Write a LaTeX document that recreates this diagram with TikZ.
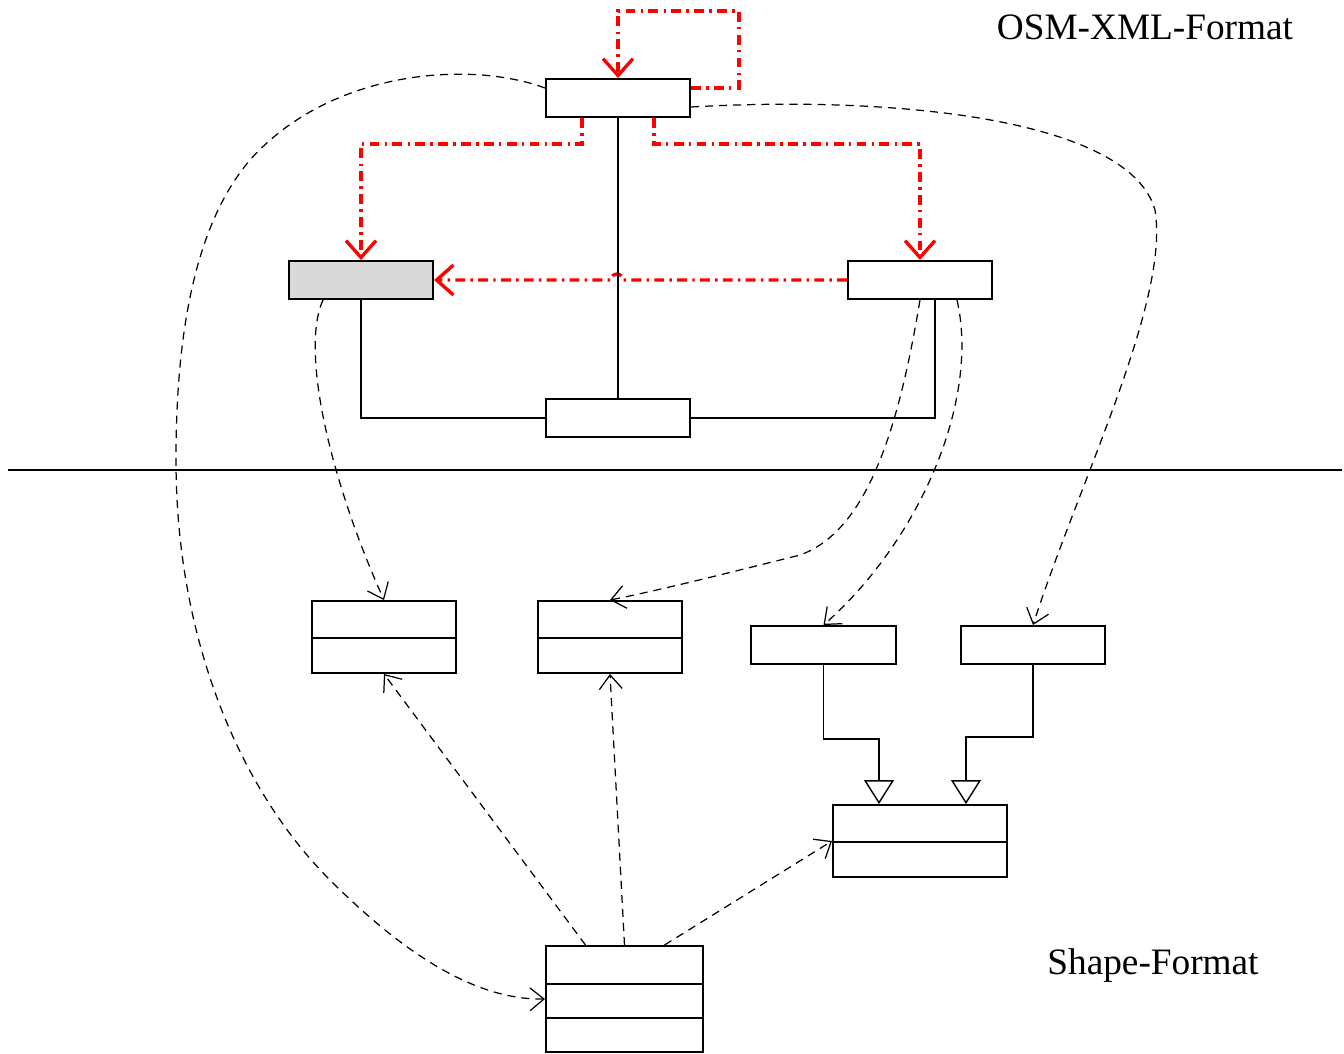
\documentclass[tikz,border=0pt]{standalone}
\usepackage{fontspec}
\setmainfont{Liberation Serif}
\usetikzlibrary{arrows.meta,calc}
\definecolor{boxgrey}{RGB}{217,217,217}
\tikzset{
 cls/.style={draw,line width=0.55pt,minimum width=1.44cm,minimum height=0.38cm,inner sep=0pt},
 redarrow/.style={-{Straight Barb[length=4.8pt,width=8.5pt]},red,line width=0.95pt,
             dash pattern=on 2.8pt off 1.5pt on 0.7pt off 1.5pt},
 deparrow/.style={-{Straight Barb[length=4pt,width=6.5pt]},line width=0.35pt,
             dash pattern=on 2.3pt off 1.7pt},
 genarrow/.style={-{Triangle[open,length=6.8pt,width=8.5pt]},line width=0.4pt},
 assoc/.style={line width=0.4pt},
 fmtlabel/.style={font=\fontsize{10.6}{12}\selectfont,inner sep=0pt}
}
\begin{document}
\begin{tikzpicture}[x=0.01cm,y=-0.01cm]
\fill[white] (0,0) rectangle (1344,1053);
\useasboundingbox (0,0) rectangle (1344,1053);
\node[cls] (t) at (618,98) {};
\node[cls,fill=boxgrey] (g) at (361,280) {};
\node[cls] (r) at (920,280) {};
\node[cls] (m) at (618,418) {};
\node[cls,minimum height=0.72cm] (a) at (384,637) {};
\node[cls,minimum height=0.72cm] (b) at (610,637) {};
\node[cls] (c) at (823.5,645) {};
\node[cls] (d) at (1033,645) {};
\node[cls,minimum width=1.74cm,minimum height=0.72cm] (e) at (920,841) {};
\node[cls,minimum width=1.57cm,minimum height=1.06cm] (f) at (624.5,999) {};
\foreach \n in {a,b,e}
  \draw[line width=0.55pt] ($(\n.north west)+(0,38)$) -- ($(\n.north east)+(0,38)$);
\draw[line width=0.55pt] ($(f.north west)+(0,39)$) -- ($(f.north east)+(0,39)$);
\draw[line width=0.55pt] ($(f.north west)+(0,73)$) -- ($(f.north east)+(0,73)$);
\node[fmtlabel] (osm) at (1145,27) {OSM-XML-Format};
\node[fmtlabel] (shp) at (1153,966) {Shape-Format};
\draw[line width=0.45pt] (8,470) -- (1342,470);
\draw[redarrow] ($(t.east)+(0,-10)$) -| (739,11) -| (t.north);
\draw[redarrow] ($(t.south)+(-36,0)$) -- ++(0,26) -| (g.north);
\draw[redarrow] ($(t.south)+(36,0)$) -- ++(0,26) -| (r.north);
\draw[redarrow] (r.west) -- (623,280) arc[start angle=0,end angle=-180,radius=6] -- (g.east);
\draw[assoc] (t.south) -- (m.north);
\draw[assoc] (g.south) |- (m.west);
\draw[assoc] (m.east) -| ($(r.south)+(15,0)$);
\draw[genarrow] (c.south) -- ++(0,74) -| ($(e.north)+(-41,0)$);
\draw[genarrow] (d.south) -- ++(0,72) -| ($(e.north)+(46,0)$);
\draw[deparrow] ($(g.south)+(-38,0)$) .. controls (300,350) and (330,480) .. (a.north);
\draw[deparrow] (r.south) .. controls (900,420) and (870,530) .. (800,555)
  .. controls (720,575) and (660,590) .. (b.north);
\draw[deparrow] ($(r.south)+(37,0)$) .. controls (980,400) and (920,540) .. (c.north);
\draw[deparrow] ($(t.east)+(0,9)$) .. controls (900,95) and (1130,120) .. (1155,210)
  .. controls (1170,300) and (1080,480) .. (d.north);
\draw[deparrow] ($(t.west)+(0,-10)$) .. controls (470,60) and (330,70) .. (250,160)
  .. controls (190,230) and (176,350) .. (176,460)
  .. controls (176,640) and (240,790) .. (330,880)
  .. controls (410,960) and (480,1000) .. (f.west);
\draw[deparrow] ($(f.north)+(-39,0)$) -- (a.south);
\draw[deparrow] (f.north) -- (b.south);
\draw[deparrow] ($(f.north)+(40,0)$) -- (e.west);
\end{tikzpicture}
\end{document}
